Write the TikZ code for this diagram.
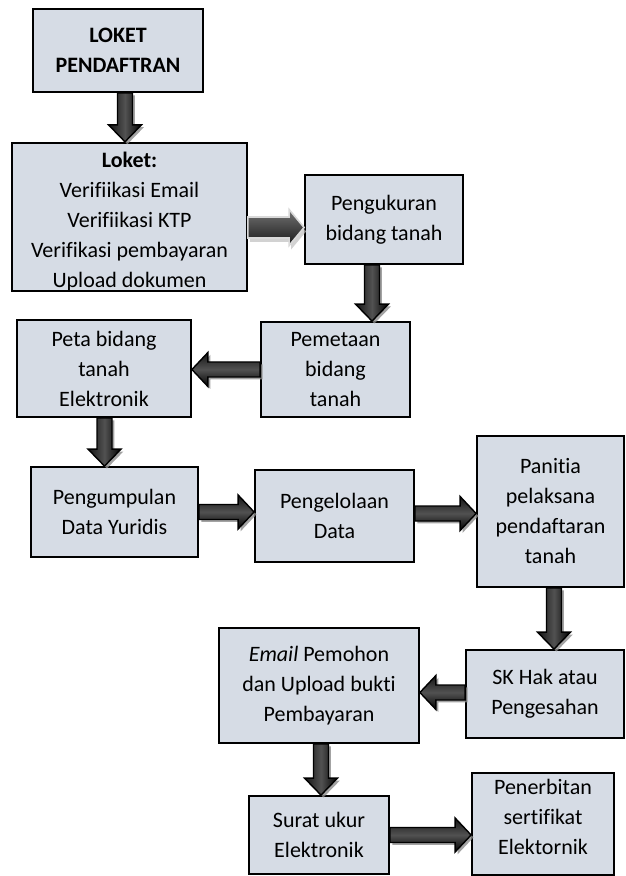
\documentclass[tikz,border=0pt]{standalone}
\usepackage{fontspec}
\setmainfont{Carlito}[Ligatures=CommonOff]
\usetikzlibrary{calc,shadows}

\definecolor{boxfill}{RGB}{214,220,229}

% block arrows between two named boxes (#3 = offset of the arrow axis)
\newcommand{\downlink}[3]{%
  \path[vlink] let \p1=($(#1.south)+(#3,0)$), \p2=(#2.north) in
    (\x1-3.75pt,\y1) -- (\x1+3.75pt,\y1) -- (\x1+3.75pt,\y2+8.5pt)
    -- (\x1+8.25pt,\y2+8.5pt) -- (\x1,\y2) -- (\x1-8.25pt,\y2+8.5pt)
    -- (\x1-3.75pt,\y2+8.5pt) -- cycle;}
\newcommand{\rightlink}[3]{%
  \path[hlink] let \p1=($(#1.east)+(0,#3)$), \p2=(#2.west) in
    (\x1,\y1+3.75pt) -- (\x2-8pt,\y1+3.75pt) -- (\x2-8pt,\y1+8.5pt)
    -- (\x2,\y1) -- (\x2-8pt,\y1-8.5pt) -- (\x2-8pt,\y1-3.75pt)
    -- (\x1,\y1-3.75pt) -- cycle;}
\newcommand{\leftlink}[3]{%
  \path[hlink] let \p1=($(#1.west)+(0,#3)$), \p2=(#2.east) in
    (\x1,\y1+3.75pt) -- (\x2+8pt,\y1+3.75pt) -- (\x2+8pt,\y1+8.5pt)
    -- (\x2,\y1) -- (\x2+8pt,\y1-8.5pt) -- (\x2+8pt,\y1-3.75pt)
    -- (\x1,\y1-3.75pt) -- cycle;}

\begin{document}
\begin{tikzpicture}[
  x=0.5pt, y=-0.5pt,
  box/.style={draw=black, line width=0.9pt, fill=boxfill, inner sep=0pt,
    align=center, font=\fontsize{11}{15}\selectfont},
  arrshadow/.style={drop shadow={shadow xshift=1.2pt, shadow yshift=-1.2pt,
    fill=black!45, opacity=.8}},
  vlink/.style={draw=black, line width=0.7pt, arrshadow,
    left color=black!92, right color=black, middle color=black!68},
  hlink/.style={draw=black, line width=0.7pt, arrshadow,
    top color=black!92, bottom color=black, middle color=black!68},
  glink/.style={draw=white!85!black, line width=0.8pt,
    drop shadow={shadow xshift=1pt, shadow yshift=-2pt, fill=black!25, opacity=.7},
    top color=black!55, bottom color=black!90}
]
\useasboundingbox (0,0) rectangle (625,876);

% === Boxes ===
\node[box, minimum width=85pt, minimum height=41.5pt, font=\fontsize{11}{15}\selectfont\bfseries]
  (pendaftaran) at (118,50.5) {LOKET\\PENDAFTRAN};
\node[box, minimum width=117.5pt, minimum height=74pt]
  (loket) at (129.5,217) {\rule{0pt}{12.5pt}\textbf{Loket:}\\Verifiikasi Email\\Verifiikasi KTP\\Verifikasi pembayaran\\Upload dokumen};
\node[box, minimum width=79pt, minimum height=44.5pt]
  (ukur) at (384,219.5) {Pengukuran\\bidang tanah};
\node[box, minimum width=74.5pt, minimum height=47.5pt]
  (petaan) at (335.5,369.5) {Pemetaan\\bidang\\tanah};
\node[box, minimum width=87pt, minimum height=48.5pt]
  (peta) at (104,368.5) {Peta bidang\\tanah\\Elektronik};
\node[box, minimum width=83.5pt, minimum height=45pt]
  (yuridis) at (114.5,512) {Pengumpulan\\Data Yuridis};
\node[box, minimum width=79.5pt, minimum height=46pt]
  (kelola) at (334.5,516) {Pengelolaan\\Data};
\node[box, minimum width=73.5pt, minimum height=75.5pt]
  (panitia) at (550.5,511.5) {Panitia\\pelaksana\\pendaftaran\\tanah};
\node[box, minimum width=79pt, minimum height=44pt]
  (skhak) at (545,694) {SK Hak atau\\Pengesahan};
\node[box, minimum width=100pt, minimum height=57.5pt]
  (email) at (319,685.5) {\textit{Email} Pemohon\\dan Upload bukti\\Pembayaran};
\node[box, minimum width=70pt, minimum height=39pt]
  (suratukur) at (319,835) {Surat ukur\\Elektronik};
\node[box, minimum width=71pt, minimum height=51pt]
  (terbit) at (543,824) {Penerbitan\\sertifikat\\Elektornik\\[-7.5pt]\mbox{}};

% === Block arrows ===
\downlink{pendaftaran}{loket}{7}
\path[glink] let \p1=($(loket.east)+(0,10.5)$), \p2=(ukur.west) in
  (\x1,\y1+5.25pt) -- (\x2-7.5pt,\y1+5.25pt) -- (\x2-7.5pt,\y1+9pt)
  -- (\x2,\y1) -- (\x2-7.5pt,\y1-9pt) -- (\x2-7.5pt,\y1-5.25pt)
  -- (\x1,\y1-5.25pt) -- cycle;
\downlink{ukur}{petaan}{-12}
\leftlink{petaan}{peta}{0}
\downlink{peta}{yuridis}{0.5}
\rightlink{yuridis}{kelola}{0}
\rightlink{kelola}{panitia}{-2.5}
\downlink{panitia}{skhak}{3.5}
\leftlink{skhak}{email}{-1.5}
\downlink{email}{suratukur}{2}
\rightlink{suratukur}{terbit}{0}

\end{tikzpicture}
\end{document}
